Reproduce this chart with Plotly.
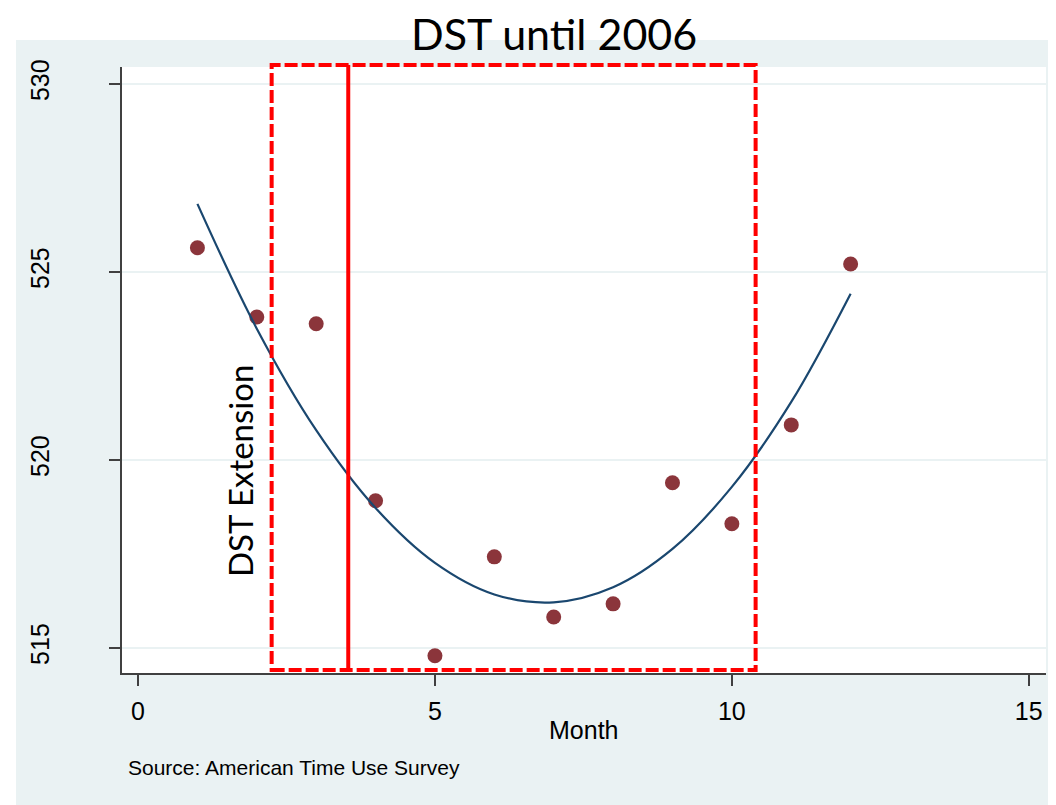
import plotly.graph_objects as go

# ---- data ----
months = [1, 2, 3, 4, 5, 6, 7, 8, 9, 10, 11, 12]
sleep_minutes = [525.64, 523.80, 523.62, 518.91, 514.79, 517.42,
                 515.82, 516.17, 519.39, 518.30, 520.93, 525.21]
fit_minutes = [526.81, 523.49, 520.79, 518.72, 517.26, 516.42,
               516.21, 516.61, 517.63, 519.28, 521.54, 524.42]

x_ticks = [0, 5, 10, 15]
y_ticks = [515, 520, 525, 530]

ext_box_x = [2.25, 10.4]        # DST extension period box (months)
dst_change_month = 3.54          # solid line

# ---- layout constants (page has an 8px body margin) ----
OFF = 8
W, H = 1056 - OFF, 805 - OFF
L = 122 - OFF
T = 67 - OFF
R = W - (1046 - OFF)
B = H - (673 - OFF)
plot_h = H - T - B
plot_w = W - L - R

BG = "#EAF2F3"

def py(pix):  # reference pixel y -> paper y
    return (H - B - (pix - OFF)) / plot_h

def px(pix):  # reference pixel x -> paper x
    return ((pix - OFF) - L) / plot_w

box_top, box_bottom = py(65), py(670)

fig = go.Figure()

fig.add_trace(go.Scatter(
    x=months, y=sleep_minutes, mode="markers",
    marker=dict(color="#8B353B", size=15, line=dict(width=0)),
    showlegend=False, cliponaxis=False))

fig.add_trace(go.Scatter(
    x=months, y=fit_minutes, mode="lines",
    line=dict(color="#1A476F", width=2.2, shape="spline"),
    showlegend=False))

shapes = [
    # white strips outside the light panel
    dict(type="rect", xref="paper", yref="paper", x0=px(0), x1=px(1056),
         y0=py(40), y1=py(0), fillcolor="white", line=dict(width=0), layer="below"),
    dict(type="rect", xref="paper", yref="paper", x0=px(0), x1=px(16),
         y0=py(805), y1=py(0), fillcolor="white", line=dict(width=0), layer="below"),
    # DST extension dashed box
    dict(type="rect", xref="x", yref="paper", x0=ext_box_x[0], x1=ext_box_x[1],
         y0=box_bottom, y1=box_top,
         line=dict(color="#FF0000", width=4, dash="13px,4px"), layer="above"),
    # solid vertical line
    dict(type="line", xref="x", yref="paper", x0=dst_change_month, x1=dst_change_month,
         y0=box_bottom, y1=box_top,
         line=dict(color="#FF0000", width=4), layer="above"),
]

annotations = [
    dict(text="DST until 2006", xref="paper", yref="paper",
         x=px(554), y=py(33), xanchor="center", yanchor="middle",
         showarrow=False, font=dict(family="Lato", size=43, color="black")),
    dict(text="DST Extension", xref="paper", yref="paper",
         x=px(240), y=py(471), xanchor="center", yanchor="middle", textangle=-90,
         showarrow=False, font=dict(family="Lato", size=33, color="black")),
    dict(text="Month", xref="paper", yref="paper",
         x=px(583), y=py(730), xanchor="center", yanchor="middle",
         showarrow=False, font=dict(family="Liberation Sans", size=25, color="black")),
    dict(text="Source: American Time Use Survey", xref="paper", yref="paper",
         x=px(126), y=py(767), xanchor="left", yanchor="middle",
         showarrow=False, font=dict(family="Liberation Sans", size=21, color="black")),
]

fig.update_layout(
    width=W, height=H,
    margin=dict(l=L, r=R, t=T, b=B, pad=0),
    paper_bgcolor=BG, plot_bgcolor="white",
    shapes=shapes, annotations=annotations,
    showlegend=False,
)

fig.update_xaxes(
    range=[-0.27, 15.29], tickvals=x_ticks, ticktext=[str(v) for v in x_ticks],
    showgrid=False, zeroline=False,
    showline=True, linecolor="#404040", linewidth=1.5,
    ticks="outside", ticklen=11, tickwidth=1.5, tickcolor="#404040",
    tickfont=dict(family="Liberation Sans", size=25, color="black"),
    ticklabelstandoff=4,
)
fig.update_yaxes(
    range=[514.33, 530.45], tickvals=y_ticks, ticktext=[str(v) for v in y_ticks],
    showgrid=True, gridcolor=BG, gridwidth=2, zeroline=False,
    showline=True, linecolor="#404040", linewidth=1.5,
    ticks="outside", ticklen=11, tickwidth=1.5, tickcolor="#404040",
    tickangle=-90,
    tickfont=dict(family="Liberation Sans", size=25, color="black"),
    ticklabelstandoff=50,
)

fig.write_html("out.html")
